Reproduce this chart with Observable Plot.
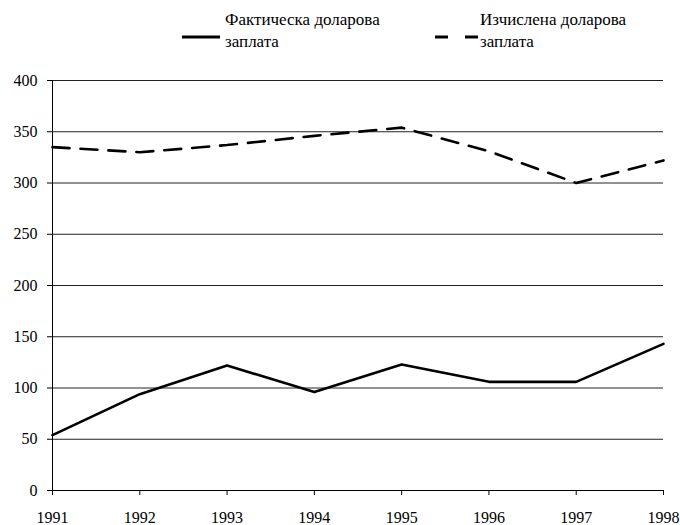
<!DOCTYPE html>
<html>
<head>
<meta charset="utf-8">
<script src="https://cdn.jsdelivr.net/npm/d3@7"></script>
<script src="https://cdn.jsdelivr.net/npm/@observablehq/plot@0.6"></script>
<style>
  html, body { margin: 0; padding: 0; background: #fff; }
  #wrap { position: relative; width: 680px; height: 525px; font-family: "Liberation Serif", "Times New Roman", "DejaVu Serif", serif; }
  #legend { position: relative; height: 65px; width: 680px; font-size: 17px; color: #000; }
  .item { position: absolute; top: 9px; display: flex; align-items: flex-start; }
  .item svg { margin-top: 25px; }
  .item span { line-height: 22px; display: block; }
  #chart svg, #chart svg text { font-family: "Liberation Serif", "Times New Roman", "DejaVu Serif", serif !important; }
  #chart svg text { font-size: 16px !important; fill: #000; }
</style>
</head>
<body>
<div id="wrap">
  <div id="legend"></div>
  <div id="chart"></div>
</div>
<script>
const years = [1991, 1992, 1993, 1994, 1995, 1996, 1997, 1998];
const actualWage = [54, 94, 122, 96, 123, 106, 106, 143];
const computedWage = [335, 330, 337, 346, 354, 331, 300, 322];
const seriesNames = ["Фактическа доларова заплата", "Изчислена доларова заплата"];
const yTicks = [0, 50, 100, 150, 200, 250, 300, 350, 400];

const data = [];
years.forEach((y, i) => data.push({year: y, value: actualWage[i], series: seriesNames[0]}));
years.forEach((y, i) => data.push({year: y, value: computedWage[i], series: seriesNames[1]}));

// Legend (HTML)
const legend = document.getElementById("legend");
const legendItems = [
  {name: seriesNames[0], dash: null, left: 182, w: 38},
  {name: seriesNames[1], dash: "13,17", left: 435, w: 43}
];
legendItems.forEach(it => {
  const div = document.createElement("div");
  div.className = "item";
  div.style.left = it.left + "px";
  const words = it.name.split(" ");
  div.innerHTML = `<svg width="${it.w}" height="6"><line x1="0" x2="${it.w}" y1="3" y2="3" stroke="#000" stroke-width="3" ${it.dash ? `stroke-dasharray="${it.dash}"` : ""}/></svg>` +
    `<div style="margin-left:${it.dash ? 2 : 5}px"><span>${words[0]} ${words[1]}</span><span>${words[2]}</span></div>`;
  legend.appendChild(div);
});

const chart = Plot.plot({
  width: 680,
  height: 460,
  marginTop: 15,
  marginLeft: 52,
  marginRight: 17,
  marginBottom: 35,
  style: {fontFamily: "'Liberation Serif', 'Times New Roman', serif", fontSize: "16px", color: "#000", background: "#fff"},
  x: {type: "linear", domain: [1991, 1998], label: null},
  y: {domain: [0, 400], label: null},
  marks: [
    Plot.gridY(yTicks.filter(t => t > 0), {stroke: "#222", strokeOpacity: 1, strokeWidth: 1}),
    Plot.ruleY([0], {stroke: "#000"}),
    Plot.ruleX([1991], {stroke: "#000"}),
    Plot.axisY({ticks: yTicks, tickSize: 5, tickPadding: 10, fontSize: 16}),
    Plot.axisX({ticks: years, tickFormat: d => String(d), tickSize: 5, tickPadding: 16, fontSize: 16}),
    Plot.line(data.filter(d => d.series === seriesNames[0]), {x: "year", y: "value", stroke: "#000", strokeWidth: 2.6}),
    Plot.line(data.filter(d => d.series === seriesNames[1]), {x: "year", y: "value", stroke: "#000", strokeWidth: 2.6, strokeDasharray: "17,11"})
  ]
});
document.getElementById("chart").appendChild(chart);
</script>
</body>
</html>
